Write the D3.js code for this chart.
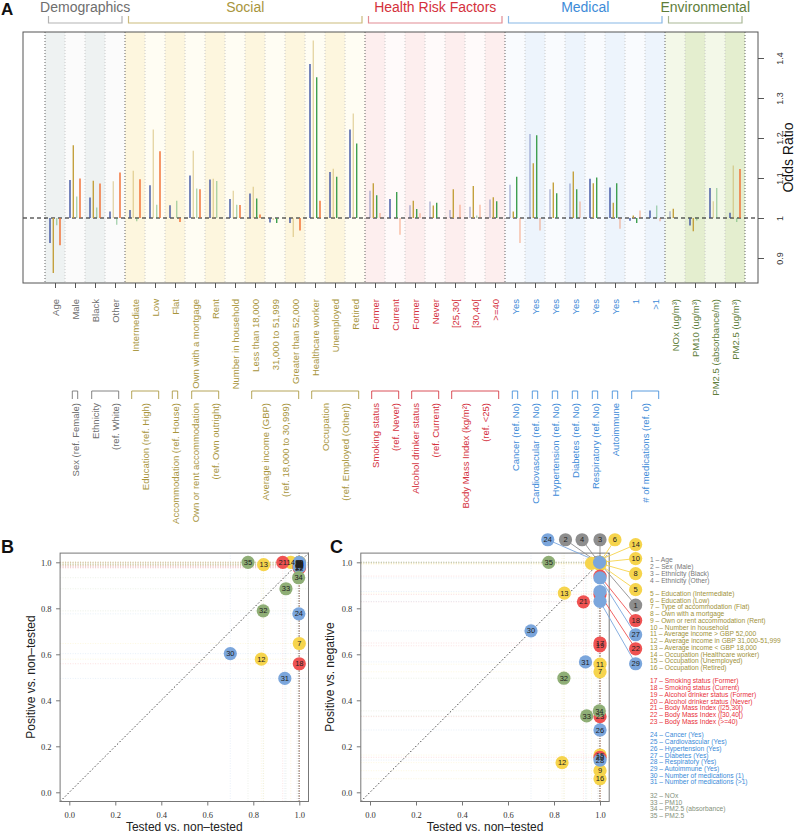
<!DOCTYPE html>
<html><head><meta charset="utf-8">
<script src="https://cdn.jsdelivr.net/npm/d3@7"></script>
<style>body{margin:0;background:#fff} svg{display:block;font-family:"Liberation Sans",Arial,Helvetica,sans-serif}</style>
</head><body><svg id="c" width="796" height="834"></svg>
<script>
// ---------------- DATA ----------------
const groups = ["Demographics","Social","Health Risk Factors","Medical","Environmental"];
const categories = ["Age","Male","Black","Other","Intermediate","Low","Flat","Own with a mortgage","Rent","Number in household","Less than 18,000","31,000 to 51,999","Greater than 52,000","Healthcare worker","Unemployed","Retired","Former","Current","Former","Never","[25,30[","[30,40[",">=40","Yes","Yes","Yes","Yes","Yes","Yes","1",">1","NOx (ug/m³)","PM10 (ug/m³)","PM2.5 (absorbance/m)","PM2.5 (ug/m³)"];
const catGroup = [0,0,0,0, 1,1,1,1,1,1,1,1,1,1,1,1, 2,2,2,2,2,2,2, 3,3,3,3,3,3,3,3, 4,4,4,4];
const subgroups = [
  {first:1,last:1,lines:["Sex (ref. Female)"]},
  {first:2,last:3,lines:["Ethnicity","(ref. White)"]},
  {first:4,last:5,lines:["Education (ref. High)"]},
  {first:6,last:6,lines:["Accommodation (ref. House)"]},
  {first:7,last:8,lines:["Own or rent accommodation","(ref. Own outright)"]},
  {first:10,last:12,lines:["Average income (GBP)","(ref. 18,000 to 30,999)"]},
  {first:13,last:15,lines:["Occupation","(ref. Employed (Other))"]},
  {first:16,last:17,lines:["Smoking status","(ref. Never)"]},
  {first:18,last:19,lines:["Alcohol drinker status","(ref. Current)"]},
  {first:20,last:22,lines:["Body Mass Index (kg/m²)","(ref. <25)"]},
  {first:23,last:23,lines:["Cancer (ref. No)"]},
  {first:24,last:24,lines:["Cardiovascular (ref. No)"]},
  {first:25,last:25,lines:["Hypertension (ref. No)"]},
  {first:26,last:26,lines:["Diabetes (ref. No)"]},
  {first:27,last:27,lines:["Respiratory (ref. No)"]},
  {first:28,last:28,lines:["Autoimmune"]},
  {first:29,last:30,lines:["# of medications (ref. 0)"]}
];
// Odds ratios, four series per category
const orSeries1 = [0.9375,1.095,1.051,1.016,1.02,1.082,1.032,1.106,1.096,1.0475,1.061,0.989,0.9875,1.385,1.115,1.221,1.068,1.0475,1.032,1.041,1.02,1.028,1.046,1.083,1.21,1.072,1.086,1.098,1.076,0.993,1.019,1.017,0.981,1.075,1.013];
const orSeries2 = [0.8625,1.182,1.093,1.092,1.118,1.221,1.0,1.168,1.098,1.068,1.078,0.995,0.9525,1.444,1.123,1.261,1.087,1.0,1.043,1.031,1.072,1.08,1.052,1.016,1.137,1.089,1.116,1.087,1.038,1.006,1.0,1.023,0.967,1.042,1.131];
const orSeries3 = [0.982,1.054,1.026,0.983,0.992,1.033,1.043,1.074,1.0925,1.033,1.049,0.9875,1.0,1.352,1.103,1.186,1.057,1.065,1.0225,1.038,1.0,1.006,1.042,1.103,1.207,1.062,1.072,1.101,1.087,0.9875,1.031,1.0,0.994,1.075,0.99];
const orSeries4 = [0.932,1.099,1.086,1.114,1.097,1.167,0.99,1.072,1.0,1.0325,1.009,1.0,0.969,1.043,1.0,1.0,1.0125,0.958,1.012,1.0,1.033,1.033,1.0,0.9375,0.969,1.0,1.041,1.0,0.973,1.019,0.992,1.0,1.0,1.0,1.1225];
// significance flags (1 = significant, drawn solid)
const sig1 = [1,1,1,1,1,1,1,1,1,1,1,1,1,1,1,1, 0,1,0,0,0,0,0, 0,0,0,0,1,1,1,1, 0,1,1,1];
const sig2 = [1,1,1,0,0,0,0,0,0,0,0,0,0,0,0,0, 1,1,1,1,1,1,1, 1,1,1,1,1,1,1,1, 1,1,0,0];
const sig3 = [0,0,0,0,0,0,0,0,0,0,1,1,0,1,1,1, 1,1,1,1,0,0,1, 1,1,1,1,1,1,1,0, 0,0,0,0];
const sig4 = [1,1,1,1,1,1,1,1,1,1,1,1,1,1,1,1, 0,0,0,1,0,0,1, 0,0,1,0,1,0,0,0, 1,1,1,1];
const yTicksA = [0.9,1,1.1,1.2,1.3,1.4];

// Scatter panels (points 1..35)
const pointLabels = ["Age","Sex (Male)","Ethnicity (Black)","Ethnicity (Other)","Education (Intermediate)","Education (Low)","Type of accommodation (Flat)","Own with a mortgage","Own or rent accommodation (Rent)","Number in household","Average income > GBP 52,000","Average income in GBP 31,000-51,999","Average income < GBP 18,000","Occupation (Healthcare worker)","Occupation (Unemployed)","Occupation (Retired)","Smoking status (Former)","Smoking status (Current)","Alcohol drinker status (Former)","Alcohol drinker status (Never)","Body Mass Index ([25,30[)","Body Mass Index ([30,40[)","Body Mass Index (>=40)","Cancer (Yes)","Cardiovascular (Yes)","Hypertension (Yes)","Diabetes (Yes)","Respiratory (Yes)","Autoimmune (Yes)","Number of medications (1)","Number of medications (>1)","NOx","PM10","PM2.5 (absorbance)","PM2.5"];
const testedVsNon = [1.0,0.99,1.0,0.995,1.0,1.0,1.0,1.0,1.0,1.0,1.0,0.835,0.845,0.963,1.0,1.0,1.0,1.0,1.0,1.0,0.928,1.0,1.0,0.998,1.0,1.0,1.0,1.0,1.0,0.70,0.937,0.843,0.942,0.997,0.777];
const positiveVsNon = [0.99,0.995,1.0,0.985,0.99,1.0,0.647,0.995,0.985,1.0,0.99,0.579,0.99,1.0,0.995,0.99,0.98,0.559,0.985,0.978,1.0,0.975,0.985,0.776,0.99,0.995,0.98,0.99,1.0,0.603,0.495,0.789,0.885,0.933,1.0];
const positiveVsNeg = [0.995,1.0,1.0,1.0,0.99,1.0,0.524,0.995,0.094,1.0,0.557,0.129,0.866,0.995,0.162,0.059,0.649,0.94,0.637,0.152,0.828,0.86,0.329,1.0,0.873,0.271,0.932,0.14,0.83,0.702,0.567,0.496,0.332,0.354,1.0];
// callout labels for crowded points in panel C (label placement in data units)
const calloutC = [
  {id:24,x:0.773,y:1.098},{id:2,x:0.850,y:1.098},{id:4,x:0.922,y:1.098},{id:3,x:1.0,y:1.098},{id:6,x:1.065,y:1.098},
  {id:14,x:1.155,y:1.077},{id:10,x:1.155,y:1.016},{id:8,x:1.155,y:0.951},{id:5,x:1.155,y:0.881},{id:1,x:1.155,y:0.814},
  {id:18,x:1.155,y:0.747},{id:27,x:1.155,y:0.685},{id:22,x:1.155,y:0.624},{id:29,x:1.155,y:0.559}
];
const unlabeledC = [25];
const scatterTicks = [0,0.2,0.4,0.6,0.8,1.0];

// ---------------- STYLE ----------------
const groupText = ["#6e6e6e","#a8953c","#d4313c","#3d8bd8","#5e7d3a"];
const groupBracket = ["#b3b3b3","#cbbb7c","#e28c93","#88b7e5","#a9b896"];
const bandStrong = ["#eef2f2","#fdf6de","#fdeeee","#edf4fc","#e4eecf"];
const bandFaint = ["#fbfbfb","#fffdf3","#fffafa","#f9fbfe","#f3f8e8"];
const seriesColors = ["#3d52a3","#c4a13e","#3f9f50","#f26a2b"];
const seriesOffsets = [-5,-1.7,1.7,5];
const pointColors = ["#8e8e8e","#f6d44c","#ef5252","#7ba6dc","#8fae76"];
const legendColors = ["#777777","#a0923a","#e8303a","#3a8ad8","#84907a"];

const svg = d3.select("#c");

// ---------------- PANEL A ----------------
const A = {l:23,r:758,t:32,b:283};
const xA = d3.scalePoint().domain(d3.range(categories.length)).range([55,735]);
const yA = d3.scaleLinear().domain([0.8375,1.465]).range([A.b,A.t]);
const gA = svg.append("g");

gA.append("g").selectAll("rect").data(categories).join("rect")
  .attr("x",(d,i)=>xA(i)-10).attr("width",20).attr("y",A.t).attr("height",A.b-A.t)
  .attr("fill",(d,i)=> i%2===0 ? bandStrong[catGroup[i]] : bandFaint[catGroup[i]]);

// separators
const seps = d3.range(categories.length+1);
gA.append("g").selectAll("line").data(seps).join("line")
  .attr("x1",i=> i<categories.length ? xA(i)-10 : xA(i-1)+10)
  .attr("x2",i=> i<categories.length ? xA(i)-10 : xA(i-1)+10)
  .attr("y1",A.t).attr("y2",A.b)
  .attr("stroke",i=> (i===0||i===categories.length||catGroup[i]!==catGroup[i-1]) ? "#555" : "#c4c4c4")
  .attr("stroke-width",0.9).attr("stroke-dasharray","1,2");

// baseline
gA.append("line").attr("x1",A.l).attr("x2",A.r).attr("y1",yA(1)).attr("y2",yA(1))
  .attr("stroke","#111").attr("stroke-width",1.1).attr("stroke-dasharray","4,3");

// bars
const series = [orSeries1,orSeries2,orSeries3,orSeries4];
const sigs = [sig1,sig2,sig3,sig4];
series.forEach((vals,s)=>{
  gA.append("g").selectAll("line").data(vals).join("line")
    .attr("x1",(d,i)=>xA(i)+seriesOffsets[s]).attr("x2",(d,i)=>xA(i)+seriesOffsets[s])
    .attr("y1",yA(1)).attr("y2",d=>yA(d))
    .attr("stroke",seriesColors[s]).attr("stroke-width",1.4)
    .attr("stroke-opacity",(d,i)=> sigs[s][i] ? 1 : 0.42);
});

// frame
gA.append("rect").attr("x",A.l).attr("y",A.t).attr("width",A.r-A.l).attr("height",A.b-A.t)
  .attr("fill","none").attr("stroke","#555").attr("stroke-width",1);

// right axis
const axR = gA.append("g").attr("transform",`translate(${A.r},0)`)
  .call(d3.axisRight(yA).tickValues(yTicksA).tickSize(6).tickFormat(d=> d===1?"1":d3.format(".1f")(d)));
axR.select(".domain").remove();
axR.selectAll(".tick line").attr("stroke","#555");
axR.selectAll(".tick text").attr("x",null).attr("dy",null).attr("transform","translate(25,0) rotate(-90)")
  .attr("text-anchor","middle").attr("font-size",9).attr("fill","#333").attr("font-family","Liberation Sans, Arial, sans-serif");
gA.append("text").attr("transform",`translate(793,${(A.t+A.b)/2}) rotate(-90)`).attr("text-anchor","middle")
  .attr("font-size",14).attr("fill","#111").text("Odds Ratio");

// bottom ticks
const axB = gA.append("g").attr("transform",`translate(0,${A.b})`)
  .call(d3.axisBottom(xA).tickSize(5).tickFormat(""));
axB.select(".domain").remove();
axB.selectAll(".tick line").attr("stroke","#555");

// category labels
gA.append("g").selectAll("text").data(categories).join("text")
  .attr("transform",(d,i)=>`translate(${xA(i)+3.5},299) rotate(-90)`)
  .attr("text-anchor","end").attr("font-size",9.5).attr("fill",(d,i)=>groupText[catGroup[i]])
  .text(d=>d);

// sub-group brackets and labels
subgroups.forEach(sg=>{
  const g = catGroup[sg.first];
  const single = sg.first===sg.last;
  const x1 = xA(sg.first) - (single?2.7:3.3), x2 = xA(sg.last) + (single?2.7:3.7);
  gA.append("path").attr("d",`M${x1},399V391H${x2}V399`).attr("fill","none")
    .attr("stroke",groupText[g]).attr("stroke-width",1).attr("stroke-opacity",0.85);
  const c = (xA(sg.first)+xA(sg.last))/2;
  const n = sg.lines.length;
  sg.lines.forEach((t,k)=>{
    const xk = c + (k-(n-1)/2)*20;
    gA.append("text").attr("transform",`translate(${xk+3.5},403) rotate(-90)`)
      .attr("text-anchor","end").attr("font-size",9.5).attr("fill",groupText[g]).text(t);
  });
});

// group headers
groups.forEach((name,g)=>{
  const idx = catGroup.map((d,i)=>d===g?i:-1).filter(i=>i>=0);
  const x1 = xA(idx[0])-6.5, x2 = xA(idx[idx.length-1])+7;
  gA.append("path").attr("d",`M${x1},16V23H${x2}V16`).attr("fill","none")
    .attr("stroke",groupBracket[g]).attr("stroke-width",1.2);
  gA.append("text").attr("x",(x1+x2)/2).attr("y",12).attr("text-anchor","middle")
    .attr("font-size",14).attr("fill",groupText[g]).text(name);
});
svg.append("text").attr("x",1).attr("y",15).attr("font-size",17).attr("font-weight","bold").attr("fill","#111").text("A");

// ---------------- PANELS B & C ----------------
function scatter(opts){
  const sx = d3.scaleLinear().domain([-0.04,1.04]).range([opts.x0, opts.x0+248.4]);
  const sy = d3.scaleLinear().domain([-0.04,1.04]).range([801.5,553.1]);
  const g = svg.append("g");
  const [X0,X1] = sx.range(), [Y0,Y1] = sy.range();
  const pts = testedVsNon.map((x,i)=>({id:i+1,x:x,y:opts.yvals[i],grp:catGroup[i]}));
  // reference lines
  g.append("g").selectAll("line.h").data(pts).join("line")
    .attr("x1",X0).attr("x2",X1).attr("y1",d=>sy(d.y)).attr("y2",d=>sy(d.y))
    .attr("stroke",d=>pointColors[d.grp]).attr("stroke-opacity",0.22).attr("stroke-width",0.8).attr("stroke-dasharray","1,1.5");
  g.append("g").selectAll("line.v").data(pts).join("line")
    .attr("y1",Y0).attr("y2",Y1).attr("x1",d=>sx(d.x)).attr("x2",d=>sx(d.x))
    .attr("stroke",d=>pointColors[d.grp]).attr("stroke-opacity",0.2).attr("stroke-width",0.8).attr("stroke-dasharray","1,1.5");
  // diagonal
  g.append("line").attr("x1",sx(-0.04)).attr("y1",sy(-0.04)).attr("x2",sx(1.04)).attr("y2",sy(1.04))
    .attr("stroke","#333").attr("stroke-width",0.9).attr("stroke-dasharray","1.5,2");
  // frame
  g.append("rect").attr("x",X0).attr("y",Y1).attr("width",X1-X0).attr("height",Y0-Y1)
    .attr("fill","none").attr("stroke","#777").attr("stroke-width",1);
  // axes
  const ax = g.append("g").attr("transform",`translate(0,${Y0})`)
    .call(d3.axisBottom(sx).tickValues(scatterTicks).tickSize(4).tickFormat(d3.format(".1f")));
  ax.select(".domain").remove();
  ax.selectAll(".tick line").attr("stroke","#777");
  ax.selectAll(".tick text").attr("y",16.5).attr("dy",0).attr("font-size",8.5).attr("fill","#333").attr("font-family","Liberation Serif, serif");
  const ay = g.append("g").attr("transform",`translate(${X0},0)`)
    .call(d3.axisLeft(sy).tickValues(scatterTicks).tickSize(4).tickFormat(d3.format(".1f")));
  ay.select(".domain").remove();
  ay.selectAll(".tick line").attr("stroke","#777");
  ay.selectAll(".tick text").attr("x",-8.5).attr("font-size",8.5).attr("fill","#333").attr("font-family","Liberation Serif, serif");
  g.append("text").attr("x",(X0+X1)/2).attr("y",831).attr("text-anchor","middle").attr("font-size",12).attr("fill","#222").text("Tested vs. non–tested");
  g.append("text").attr("transform",`translate(${opts.ytx},677) rotate(-90)`).attr("text-anchor","middle").attr("font-size",12).attr("fill","#222").text(opts.ytitle);
  g.append("text").attr("x",opts.lx).attr("y",553).attr("font-size",18).attr("font-weight","bold").attr("fill","#111").text(opts.letter);
  // callout lines
  const co = opts.callouts||[];
  g.append("g").selectAll("line").data(co).join("line")
    .attr("x1",d=>sx(d.x)).attr("y1",d=>sy(d.y))
    .attr("x2",d=>sx(pts[d.id-1].x)).attr("y2",d=>sy(pts[d.id-1].y))
    .attr("stroke",d=>pointColors[pts[d.id-1].grp]).attr("stroke-width",0.9);
  // points
  g.append("g").selectAll("circle").data(pts).join("circle")
    .attr("cx",d=>sx(d.x)).attr("cy",d=>sy(d.y)).attr("r",6.6).attr("fill",d=>pointColors[d.grp]);
  const hidden = new Set(co.map(d=>d.id).concat(opts.unlabeled||[]));
  g.append("g").selectAll("text").data(pts.filter(d=>!hidden.has(d.id))).join("text")
    .attr("x",d=>sx(d.x)).attr("y",d=>sy(d.y)).attr("dy","0.35em").attr("text-anchor","middle")
    .attr("font-size",7.5).attr("fill","#222").text(d=>d.id);
  // callout circles
  const cg = g.append("g").selectAll("g").data(co).join("g")
    .attr("transform",d=>`translate(${sx(d.x)},${sy(d.y)})`);
  cg.append("circle").attr("r",6.6).attr("fill",d=>pointColors[pts[d.id-1].grp]);
  cg.append("text").attr("dy","0.35em").attr("text-anchor","middle").attr("font-size",7.5).attr("fill","#222").text(d=>d.id);
}
scatter({x0:60.1, yvals:positiveVsNon, ytitle:"Positive vs. non–tested", ytx:35, lx:1, letter:"B"});
scatter({x0:360.8, yvals:positiveVsNeg, ytitle:"Positive vs. negative", ytx:334, lx:330, letter:"C", callouts:calloutC, unlabeled:unlabeledC});

// legend for C
const legend = svg.append("g");
pointLabels.forEach((t,i)=>{
  const g = catGroup[i];
  legend.append("text").attr("x",650).attr("y",560+(i+g)*6.73).attr("dy","0.35em")
    .attr("font-size",6.7).attr("fill",legendColors[g]).text(`${i+1} – ${t}`);
});
</script></body></html>
